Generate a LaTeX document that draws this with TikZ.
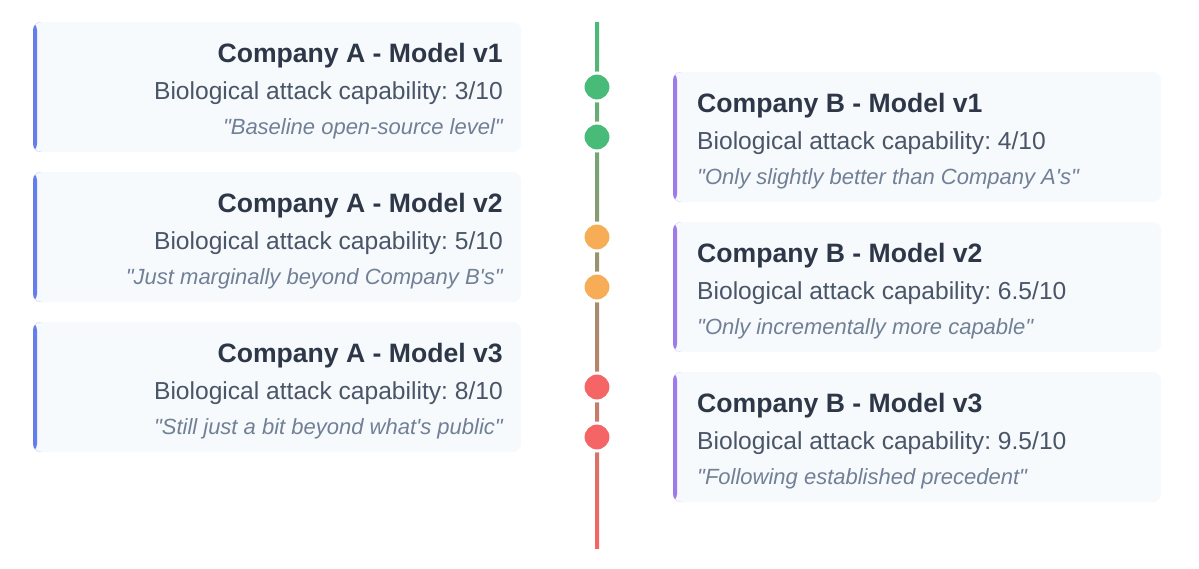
\documentclass[tikz,border=0pt]{standalone}
\usepackage{fontspec}
\setmainfont{Liberation Sans}[Ligatures=TeXOff]
\frenchspacing
\definecolor{cardbg}{HTML}{F7FAFC}
\definecolor{borderA}{HTML}{667EEA}
\definecolor{borderB}{HTML}{9F7AEA}
\definecolor{titlec}{HTML}{2D3748}
\definecolor{bodyc}{HTML}{4A5568}
\definecolor{quotec}{HTML}{718096}
\definecolor{dgreen}{HTML}{48BB78}
\definecolor{dorange}{HTML}{F6AD55}
\definecolor{dred}{HTML}{F56565}
\tikzset{
  card/.style={rectangle, rounded corners=8pt, fill=cardbg, minimum width=488pt, minimum height=130pt,
    inner sep=0pt, outer sep=0pt, anchor=north west},
  cardA/.style={card, path picture={\fill[borderA] (path picture bounding box.north west) rectangle ([xshift=4pt]path picture bounding box.south west);}},
  cardB/.style={card, path picture={\fill[borderB] (path picture bounding box.north west) rectangle ([xshift=4pt]path picture bounding box.south west);}},
  ttl/.style={font=\fontsize{26.6}{30}\selectfont\bfseries, text=titlec, inner sep=0pt},
  bdy/.style={font=\fontsize{24.6}{28}\selectfont, text=bodyc, inner sep=0pt},
  qt/.style={font=\fontsize{22}{26}\selectfont\itshape, text=quotec, inner sep=0pt},
  dot/.style={circle, minimum size=28pt, inner sep=0pt, draw=white, line width=3pt},
}
\begin{document}
\begin{tikzpicture}[x=1pt,y=-1pt]
\useasboundingbox (0,0) rectangle (1199,568);
% timeline
\coordinate (ltop) at (597,22);
\coordinate (lbot) at (597,548);
\shade[top color=dgreen, bottom color=dred] ([xshift=-2pt]ltop) rectangle ([xshift=2pt]lbot);
\node[dot, fill=dgreen] (d1) at (597,87) {};
\node[dot, fill=dgreen] (d2) at (597,137) {};
\node[dot, fill=dorange] (d3) at (597,237) {};
\node[dot, fill=dorange] (d4) at (597,287) {};
\node[dot, fill=dred] (d5) at (597,387) {};
\node[dot, fill=dred] (d6) at (597,437) {};
% left cards
\node[cardA] (cA1) at (33,22) {};
\node[cardA] (cA2) at (33,172) {};
\node[cardA] (cA3) at (33,322) {};
\node[ttl, anchor=base east] (tA1) at (503,62) {Company A - Model v1};
\node[bdy, anchor=base east] (bA1) at (503,99) {Biological attack capability: 3/10};
\node[qt, anchor=base east] (qA1) at (503,134) {"Baseline open-source level"};
\node[ttl, anchor=base east] (tA2) at (503,212) {Company A - Model v2};
\node[bdy, anchor=base east] (bA2) at (503,249) {Biological attack capability: 5/10};
\node[qt, anchor=base east] (qA2) at (503,284) {"Just marginally beyond Company B's"};
\node[ttl, anchor=base east] (tA3) at (503,362) {Company A - Model v3};
\node[bdy, anchor=base east] (bA3) at (503,399) {Biological attack capability: 8/10};
\node[qt, anchor=base east] (qA3) at (503,434) {"Still just a bit beyond what's public"};
% right cards
\node[cardB] (cB1) at (673,72) {};
\node[cardB] (cB2) at (673,222) {};
\node[cardB] (cB3) at (673,372) {};
\node[ttl, anchor=base west] (tB1) at (697,112) {Company B - Model v1};
\node[bdy, anchor=base west] (bB1) at (697,149) {Biological attack capability: 4/10};
\node[qt, anchor=base west] (qB1) at (697,184) {"Only slightly better than Company A's"};
\node[ttl, anchor=base west] (tB2) at (697,262) {Company B - Model v2};
\node[bdy, anchor=base west] (bB2) at (697,299) {Biological attack capability: 6.5/10};
\node[qt, anchor=base west] (qB2) at (697,334) {"Only incrementally more capable"};
\node[ttl, anchor=base west] (tB3) at (697,412) {Company B - Model v3};
\node[bdy, anchor=base west] (bB3) at (697,449) {Biological attack capability: 9.5/10};
\node[qt, anchor=base west] (qB3) at (697,484) {"Following established precedent"};
\end{tikzpicture}
\end{document}
